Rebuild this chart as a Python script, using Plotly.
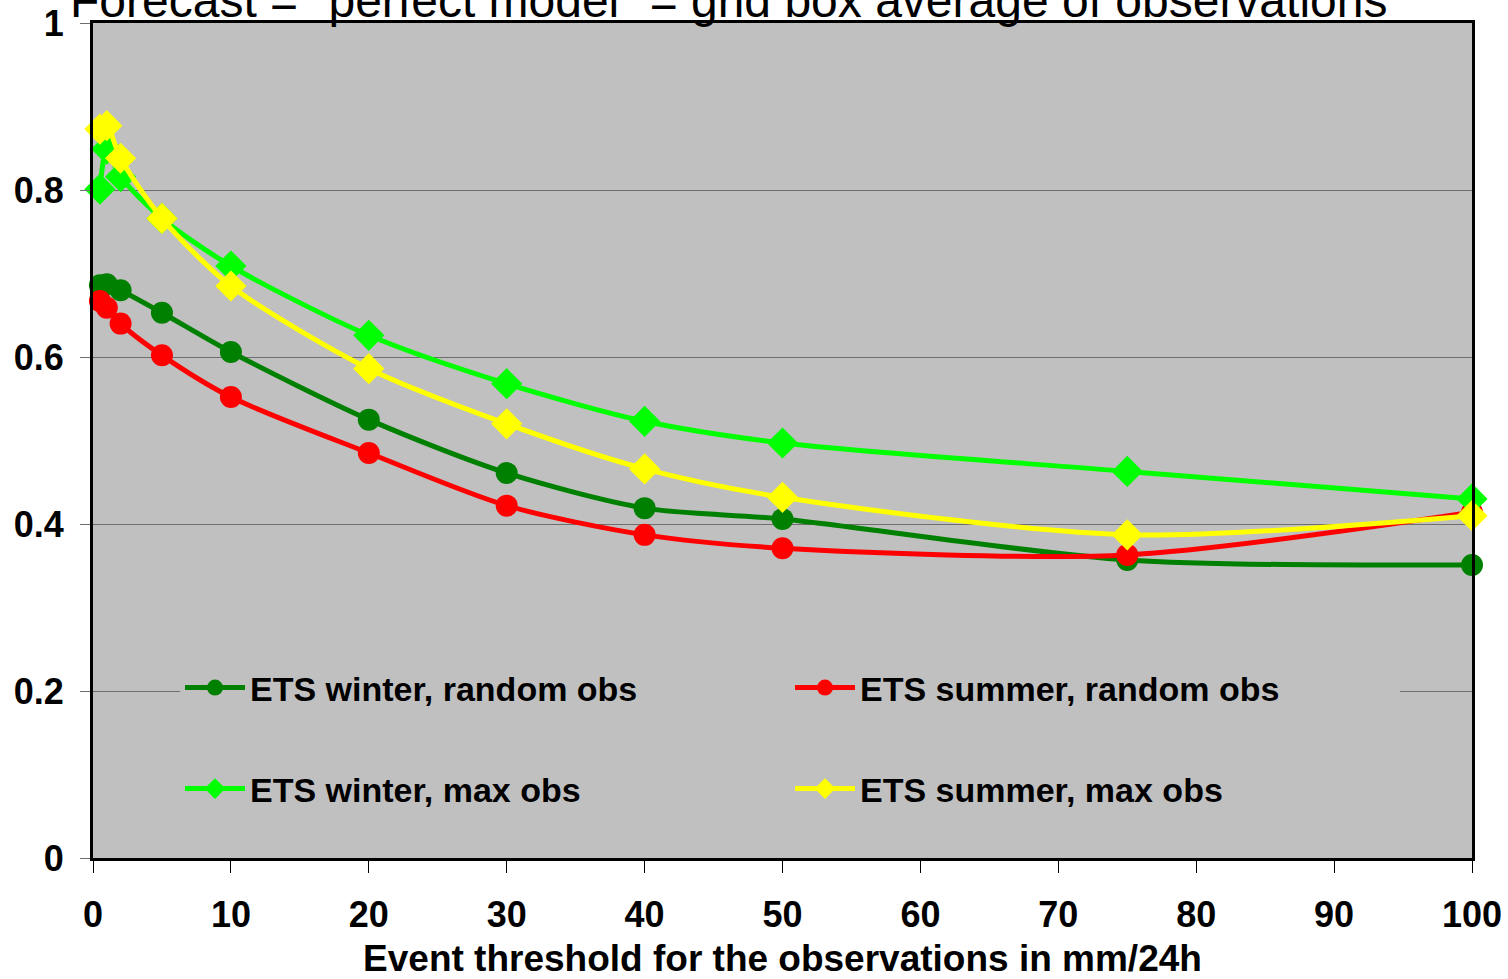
import plotly.graph_objects as go

thresholds = [0.5, 1, 2, 5, 10, 20, 30, 40, 50, 75, 100]
winter_random = [0.686, 0.687, 0.680, 0.653, 0.606, 0.525, 0.461, 0.419, 0.406, 0.357, 0.351]
summer_random = [0.667, 0.659, 0.640, 0.602, 0.552, 0.485, 0.422, 0.387, 0.371, 0.363, 0.414]
winter_max = [0.801, 0.849, 0.816, 0.766, 0.709, 0.626, 0.568, 0.523, 0.497, 0.463, 0.430]
summer_max = [0.873, 0.877, 0.838, 0.766, 0.685, 0.586, 0.520, 0.466, 0.432, 0.387, 0.410]

series_names = ["ETS winter, random obs", "ETS summer, random obs",
                "ETS winter, max obs", "ETS summer, max obs"]
x_ticks = [0, 10, 20, 30, 40, 50, 60, 70, 80, 90, 100]
y_ticks = [0, 0.2, 0.4, 0.6, 0.8, 1]
y_ticktext = ["0", "0.2", "0.4", "0.6", "0.8", "1"]

FONT = "Arial, Liberation Sans, sans-serif"

specs = [
    (winter_random, series_names[0], "#008000", "circle", 22, "legend"),
    (summer_random, series_names[1], "#FF0000", "circle", 22, "legend"),
    (winter_max, series_names[2], "#00FF00", "diamond", 24, "legend2"),
    (summer_max, series_names[3], "#FFFF00", "diamond", 24, "legend2"),
]

fig = go.Figure()
for vals, name, color, sym, size, leg in specs:
    fig.add_trace(go.Scatter(
        x=thresholds, y=vals, name=name, mode="lines+markers",
        line=dict(color=color, width=5, shape="spline", smoothing=0.8),
        marker=dict(color=color, symbol=sym, size=size, line=dict(width=0)),
        cliponaxis=False, legend=leg,
    ))

W, H = 1508, 979
L, R, T, B = 93, 36, 23, 121
plot_h = H - T - B
plot_w = W - L - R

def py(p):
    return (H - B - p) / plot_h

def px(p):
    return (p - L) / plot_w

legend_common = dict(
    orientation="h", bgcolor="#C0C0C0", borderwidth=0,
    font=dict(family=FONT, size=34, color="black", weight="bold"),
    entrywidth=535, entrywidthmode="pixels", itemwidth=60,
    xanchor="left", yanchor="middle", xref="paper", yref="paper",
    itemclick=False, itemdoubleclick=False,
)

fig.update_layout(
    width=W, height=H,
    margin=dict(l=L, r=R, t=T, b=B, pad=0, autoexpand=False),
    paper_bgcolor="white", plot_bgcolor="#C0C0C0",
    font=dict(family=FONT, color="black"),
    showlegend=True,
    legend=dict(x=px(180), y=py(688), **legend_common),
    legend2=dict(x=px(180), y=py(789), **legend_common),
    xaxis=dict(
        range=[0, 100], tickvals=x_ticks, showgrid=False, automargin=False,
        ticks="outside", ticklen=12, tickcolor="black", tickwidth=1,
        showline=True, linecolor="black", linewidth=3, mirror=True,
        tickfont=dict(family=FONT, size=36, weight="bold", color="black"),
        ticklabelstandoff=11, zeroline=False,
        title=dict(text="Event threshold for the observations in mm/24h",
                   font=dict(family=FONT, size=37, weight="bold", color="black"),
                   standoff=28),
    ),
    yaxis=dict(
        range=[0, 1], tickvals=y_ticks, ticktext=y_ticktext, automargin=False,
        showgrid=True, gridcolor="#6E6E6E", gridwidth=1,
        ticks="outside", ticklen=10, tickcolor="#6E6E6E", tickwidth=1,
        showline=True, linecolor="black", linewidth=3, mirror=True,
        tickfont=dict(family=FONT, size=36, weight="bold", color="black"),
        ticklabelstandoff=9, zeroline=False,
    ),
    annotations=[dict(
        text='Forecast = "perfect model" = grid box average of observations',
        x=px(728), y=py(29), xref="paper", yref="paper",
        xanchor="center", yanchor="bottom", showarrow=False,
        font=dict(family=FONT, size=48, color="black"),
    )],
)

fig.write_html(
    "out.html",
    config={"displayModeBar": False},
    post_script="document.body.style.margin='0';document.body.style.padding='0';",
)
